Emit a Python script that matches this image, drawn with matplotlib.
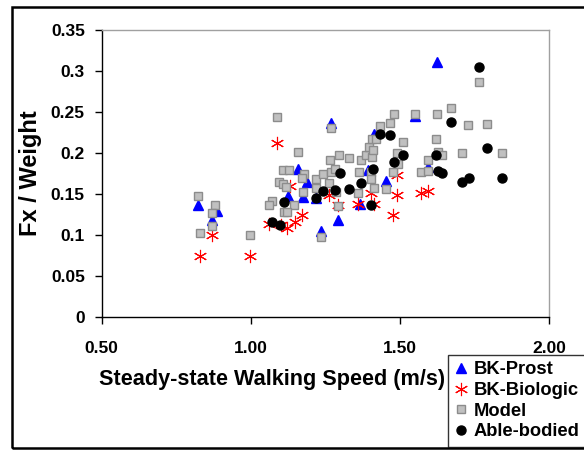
import numpy as np
import matplotlib
matplotlib.use('Agg')
import matplotlib.pyplot as plt
from matplotlib.patches import Rectangle

plt.rcParams['font.family'] = ['Liberation Sans', 'DejaVu Sans']
plt.rcParams['font.weight'] = 'bold'

# BK-Prost (blue triangles)
prost_x = [0.823, 0.886, 0.869, 1.159, 1.188, 1.124, 1.174, 1.219, 1.269, 1.237,
           1.294, 1.365, 1.393, 1.415, 1.455, 1.552, 1.593, 1.623]
prost_y = [0.137, 0.129, 0.118, 0.181, 0.165, 0.148, 0.146, 0.145, 0.236, 0.105,
           0.118, 0.138, 0.179, 0.223, 0.166, 0.245, 0.183, 0.311]

# BK-Biologic (red stars)
bio_x = [0.829, 0.869, 0.998, 1.088, 1.062, 1.101, 1.121, 1.148, 1.172, 1.131,
         1.264, 1.292, 1.361, 1.404, 1.414, 1.492, 1.492, 1.476, 1.570, 1.593]
bio_y = [0.074, 0.100, 0.074, 0.212, 0.114, 0.112, 0.108, 0.116, 0.124, 0.160,
         0.149, 0.137, 0.138, 0.151, 0.138, 0.173, 0.149, 0.124, 0.151, 0.154]

# Model (gray squares)
model_x = [0.823, 0.879, 0.869, 0.869, 0.829, 0.998, 1.088, 1.159, 1.110, 1.129,
           1.180, 1.172, 1.096, 1.110, 1.118, 1.174, 1.073, 1.062, 1.146, 1.111,
           1.123, 1.237, 1.219, 1.219, 1.241, 1.269, 1.284, 1.264, 1.266, 1.297,
           1.328, 1.269, 1.286, 1.294, 1.359, 1.363, 1.370, 1.387, 1.406, 1.396,
           1.410, 1.406, 1.420, 1.435, 1.466, 1.480, 1.552, 1.623, 1.671, 1.730,
           1.793, 1.765, 1.511, 1.620, 1.492, 1.493, 1.404, 1.477, 1.404, 1.415,
           1.455, 1.593, 1.572, 1.593, 1.629, 1.643, 1.707, 1.842]
model_y = [0.147, 0.137, 0.127, 0.111, 0.103, 0.100, 0.244, 0.201, 0.179, 0.179,
           0.174, 0.170, 0.165, 0.162, 0.159, 0.153, 0.141, 0.136, 0.137, 0.128,
           0.128, 0.098, 0.168, 0.157, 0.174, 0.177, 0.180, 0.163, 0.192, 0.197,
           0.194, 0.231, 0.153, 0.135, 0.151, 0.177, 0.191, 0.198, 0.195, 0.207,
           0.204, 0.217, 0.217, 0.233, 0.237, 0.248, 0.248, 0.248, 0.255, 0.234,
           0.235, 0.287, 0.213, 0.217, 0.200, 0.186, 0.177, 0.177, 0.168, 0.157,
           0.156, 0.191, 0.177, 0.178, 0.201, 0.197, 0.200, 0.200]

# Able-bodied (black circles)
able_x = [1.111, 1.073, 1.098, 1.218, 1.242, 1.284, 1.328, 1.298, 1.370, 1.404,
          1.411, 1.435, 1.466, 1.482, 1.512, 1.621, 1.629, 1.643, 1.671, 1.707,
          1.731, 1.765, 1.793, 1.842]
able_y = [0.140, 0.116, 0.112, 0.145, 0.154, 0.155, 0.156, 0.176, 0.163, 0.137,
          0.181, 0.223, 0.222, 0.189, 0.197, 0.198, 0.178, 0.176, 0.238, 0.165,
          0.170, 0.305, 0.206, 0.169]

xticks = [0.5, 1.0, 1.5, 2.0]
xticklabels = ['0.50', '1.00', '1.50', '2.00']
yticks = [0, 0.05, 0.1, 0.15, 0.2, 0.25, 0.3, 0.35]
yticklabels = ['0', '0.05', '0.1', '0.15', '0.2', '0.25', '0.3', '0.35']

fig = plt.figure(figsize=(5.84, 4.5), dpi=100)
ax = fig.add_axes([101.5/584, 1-317/450, (549-101.5)/584, (317-30)/450])

ax.plot(prost_x, prost_y, ls='none', marker='^', ms=7.5, color='#0000ff',
        mec='#0000ff', label='BK-Prost')
ax.plot(bio_x, bio_y, ls='none', marker=(6, 2, 0), ms=9.5, color='#ff0000',
        mew=0.8, label='BK-Biologic')
ax.plot(model_x, model_y, ls='none', marker='s', ms=6.3, mfc='#c0c0c0',
        mec='#8c8c8c', mew=1.0, label='Model')
ax.plot(able_x, able_y, ls='none', marker='o', ms=6.5, color='black',
        label='Able-bodied')

ax.set_xlim(0.5, 2.0)
ax.set_ylim(0, 0.35)
ax.set_xticks(xticks)
ax.set_xticklabels(xticklabels)
ax.set_yticks(yticks)
ax.set_yticklabels(yticklabels)
ax.tick_params(direction='out', length=5, width=1, labelsize=12.5, colors='black')
ax.tick_params(axis='x', pad=12)
ax.tick_params(axis='y', pad=7)

for s in ['top', 'right']:
    ax.spines[s].set_color('#a0a0a0')
    ax.spines[s].set_linewidth(1)
for s in ['left', 'bottom']:
    ax.spines[s].set_color('black')
    ax.spines[s].set_linewidth(1)

ax.set_xlabel('Steady-state Walking Speed (m/s)', fontsize=15.6, fontweight='bold')
ax.xaxis.set_label_coords((272-101.5)/447.5, -(369-317)/287)
ax.set_ylabel('Fx / Weight', fontsize=17, fontweight='bold', labelpad=6)

leg = fig.legend(loc='upper left', bbox_to_anchor=(448/584, 1-355/450),
                 fontsize=13.2, numpoints=1, handlelength=0.7, handletextpad=0.35,
                 labelspacing=0.2, borderpad=0.35, borderaxespad=0,
                 fancybox=False, frameon=True)
leg.get_frame().set_edgecolor('black')
leg.get_frame().set_linewidth(1)

# outer chart border
fig.add_artist(Rectangle((12/584, 1-448/450), 1.0, (448-7)/450,
                         transform=fig.transFigure, fill=False,
                         edgecolor='black', lw=1.8, clip_on=False))

fig.savefig('out.png', dpi=100)
